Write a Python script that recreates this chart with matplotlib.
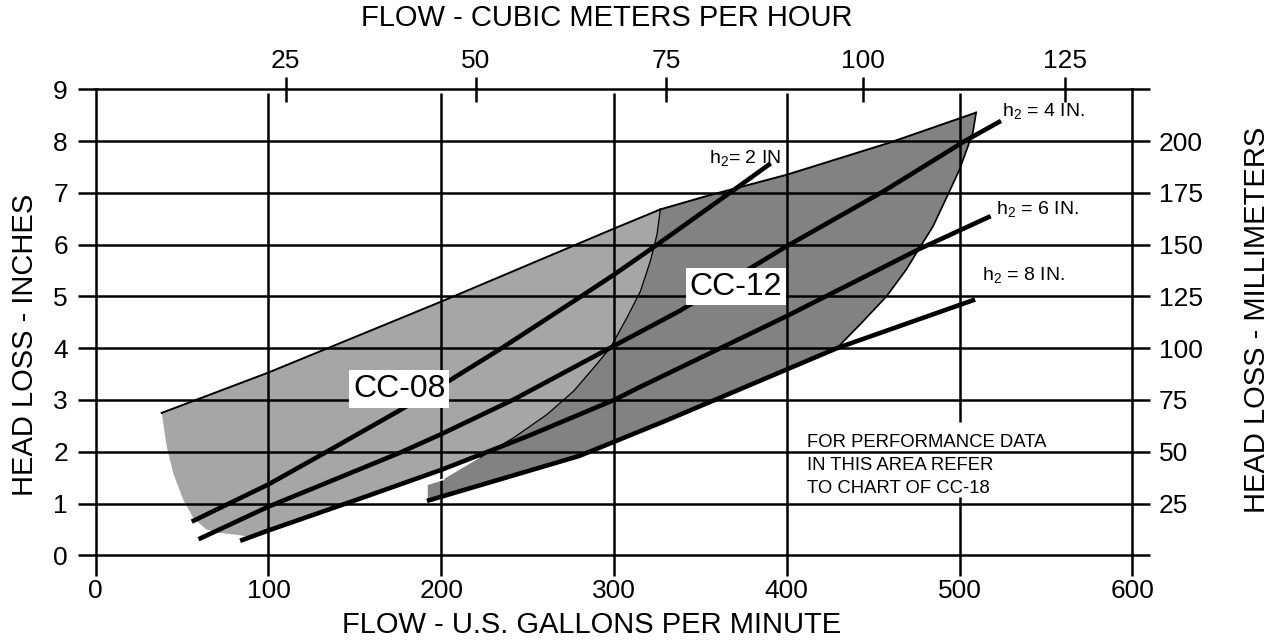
import numpy as np
import matplotlib
matplotlib.use('Agg')
import matplotlib.pyplot as plt

plt.rcParams['font.family'] = ['Liberation Sans', 'DejaVu Sans']

# ---- axes data ----
gpm_ticks = [0, 100, 200, 300, 400, 500, 600]
inch_ticks = [0, 1, 2, 3, 4, 5, 6, 7, 8, 9]
mm_labels = ['', '25', '50', '75', '100', '125', '150', '175', '200', '']
m3h_labels = ['25', '50', '75', '100', '125']
m3h_pos_gpm = [110, 220, 330, 444, 561]   # where the m3/h ticks sit on the GPM scale

# ---- CC-08 region (light) ----
cc08_top_x = [38.2, 100, 200, 300, 326.8]
cc08_top_y = [2.75, 3.53, 4.90, 6.31, 6.68]
cc08_left_x = [90, 78, 72, 64, 56.5, 50.7, 44.9, 41.1, 38.2]
cc08_left_y = [0.37, 0.41, 0.43, 0.50, 0.72, 1.07, 1.58, 2.10, 2.75]

# boundary between CC-08 and CC-12 (top to bottom)
split_x = [326.8, 324.9, 321.0, 315.3, 307.5, 297.9, 288.2, 276.6, 261.2, 241.9, 222.6, 201.4, 191.7]
split_y = [6.68, 6.20, 5.68, 5.10, 4.59, 4.01, 3.62, 3.17, 2.72, 2.27, 1.89, 1.47, 1.37]

# ---- CC-12 region (dark) ----
cc12_right_x = [429, 444.2, 457.7, 469.2, 476.9, 484.6, 494.2, 500.0, 507.7, 509.6]
cc12_right_y = [4.00, 4.52, 5.00, 5.52, 5.94, 6.35, 7.03, 7.45, 8.16, 8.55]
cc12_top_x = [509.6, 459.6, 400, 353.8, 326.8]
cc12_top_y = [8.55, 7.97, 7.35, 6.94, 6.68]

# ---- h2 curves ----
h2_2_x = [55.6, 100, 130, 176, 205, 234, 280, 300, 322, 367, 390.7]
h2_2_y = [0.65, 1.37, 1.93, 2.80, 3.38, 3.98, 4.98, 5.42, 5.93, 7.00, 7.57]
h2_4_x = [59.5, 100, 176, 200, 242, 298, 338, 400, 456, 503, 524]
h2_4_y = [0.31, 0.94, 1.98, 2.34, 3.01, 4.01, 4.72, 5.97, 7.03, 8.00, 8.39]
h2_6_x = [83.6, 100, 150, 200, 250, 300, 315, 400, 477, 518]
h2_6_y = [0.28, 0.48, 1.06, 1.65, 2.30, 3.00, 3.25, 4.62, 5.92, 6.55]
h2_8_x = [191.7, 280, 330, 429, 509]
h2_8_y = [1.05, 1.92, 2.60, 4.00, 4.94]

note_lines = ['FOR PERFORMANCE DATA', 'IN THIS AREA REFER', 'TO CHART OF CC-18']

fig = plt.figure(figsize=(12.76, 6.41), dpi=100)
ax = fig.add_axes([0.075, 0.1337, 0.8124, 0.727])
ax.set_xlim(0, 600)
ax.set_ylim(0, 9)

# light region: top edge, split curve down to h2=6, back along h2=6, left curve up
h6x = np.array(h2_6_x)
h6y = np.array(h2_6_y)
mask = (h6x > 90) & (h6x < 222.6)
bx = np.concatenate([[222.6], h6x[mask][::-1], [90]])
by = np.interp(bx, h6x, h6y)
p08x = np.concatenate([cc08_top_x, split_x[1:11], bx, cc08_left_x[1:]])
p08y = np.concatenate([cc08_top_y, split_y[1:11], by, cc08_left_y[1:]])
ax.fill(p08x, p08y, color='#a6a6a6', lw=0, zorder=1)

# dark region: h2=8 edge, right edge, top edge, split curve
p12x = np.concatenate([h2_8_x[:-1], cc12_right_x[1:], cc12_top_x[1:], split_x[1:]])
p12y = np.concatenate([h2_8_y[:-1], cc12_right_y[1:], cc12_top_y[1:], split_y[1:]])
ax.fill(p12x, p12y, color='#828282', lw=0, zorder=1.2)

# grid
ax.hlines(inch_ticks[1:-1], 0, 600, color='black', lw=1.8, zorder=2)
for gx in gpm_ticks[1:-1]:
    if gx == 500:
        # gap behind the note text
        ax.vlines(gx, 0, 1.13, color='black', lw=1.8, zorder=2)
        ax.vlines(gx, 2.58, 8.92, color='black', lw=1.8, zorder=2)
    else:
        ax.vlines(gx, 0, 8.92, color='black', lw=1.8, zorder=2)

# region outlines
ax.plot(cc08_top_x, cc08_top_y, color='black', lw=1.4, zorder=2.5)
ax.plot(cc12_top_x, cc12_top_y, color='black', lw=1.4, zorder=2.5)
ax.plot(cc12_right_x, cc12_right_y, color='black', lw=1.2, zorder=2.5)
ax.plot(split_x[:-2], split_y[:-2], color='black', lw=0.9, zorder=2.5)
ax.plot([h2_8_x[0], split_x[-1], split_x[-2]], [h2_8_y[0] + 0.05, split_y[-1], split_y[-2]],
        color='white', lw=1.3, zorder=2.6)

# h2 curves
for xs, ys in [(h2_2_x, h2_2_y), (h2_4_x, h2_4_y), (h2_6_x, h2_6_y), (h2_8_x, h2_8_y)]:
    ax.plot(xs, ys, color='black', lw=3.3, solid_capstyle='butt', zorder=3)

# labels in plot
box = dict(boxstyle='square,pad=0.12', fc='white', ec='none')
ax.text(175.8, 3.21, 'CC-08', fontsize=23, ha='center', va='center', bbox=box, zorder=4)
ax.text(370.5, 5.19, 'CC-12', fontsize=23, ha='center', va='center', bbox=box, zorder=4)

lab_kw = dict(fontsize=14, ha='left', va='baseline', zorder=4)
ax.text(355, 7.57, r'h$_\mathregular{2}$= 2 IN', **lab_kw)
ax.text(524.4, 8.47, r'h$_\mathregular{2}$ = 4 IN.', **lab_kw)
ax.text(521.1, 6.57, r'h$_\mathregular{2}$ = 6 IN.', **lab_kw)
ax.text(513.2, 5.30, r'h$_\mathregular{2}$ = 8 IN.', **lab_kw)

for line, ty in zip(note_lines, [2.09, 1.65, 1.21]):
    ax.text(411.9, ty, line, fontsize=13.3, ha='left', va='baseline', zorder=4)

# axes / ticks
for s in ax.spines.values():
    s.set_linewidth(1.8)
ax.set_xticks(gpm_ticks)
ax.set_yticks(inch_ticks)
ax.tick_params(axis='x', direction='out', length=15, width=1.8, labelsize=19, pad=2)
ax.tick_params(axis='y', direction='out', length=13, width=1.8, labelsize=19, pad=7)

axr = ax.twinx()
axr.set_ylim(0, 9)
axr.set_yticks(inch_ticks)
axr.set_yticklabels(mm_labels)
axr.tick_params(axis='y', direction='out', length=13, width=1.8, labelsize=19, pad=6)
for s in axr.spines.values():
    s.set_visible(False)

axt = ax.twiny()
axt.set_xlim(0, 600)
axt.set_xticks(m3h_pos_gpm)
axt.set_xticklabels(m3h_labels)
axt.tick_params(axis='x', direction='inout', length=18, width=1.8, labelsize=19, pad=3)
for s in axt.spines.values():
    s.set_visible(False)

fig.text(0.4757, 0.972, 'FLOW - CUBIC METERS PER HOUR', fontsize=21, ha='center', va='center')
fig.text(0.464, 0.025, 'FLOW - U.S. GALLONS PER MINUTE', fontsize=21, ha='center', va='center')
fig.text(0.0196, 0.4618, 'HEAD LOSS - INCHES', fontsize=21, ha='center', va='center', rotation=90)
fig.text(0.985, 0.5008, 'HEAD LOSS - MILLIMETERS', fontsize=21, ha='center', va='center', rotation=90)

fig.savefig('out.png', dpi=100)
